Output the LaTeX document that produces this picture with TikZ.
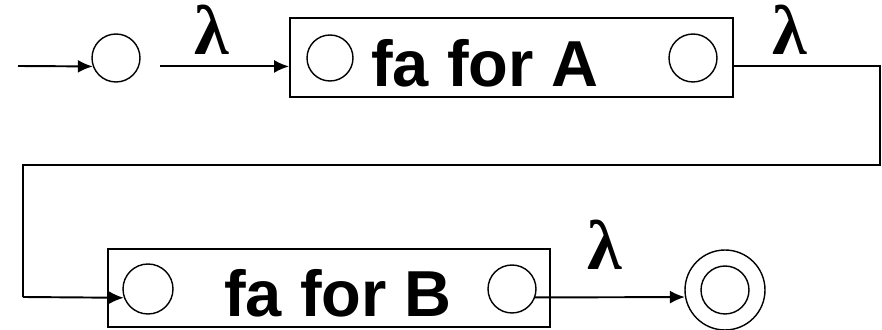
\documentclass[tikz,border=0pt]{standalone}
\usepackage{fontspec}
\setmainfont{Liberation Sans}
\newfontfamily\lamfont{Liberation Serif}
\usetikzlibrary{arrows.meta,positioning}

\begin{document}
\begin{tikzpicture}[x=0.02cm,y=-0.02cm,
  state/.style={circle,draw,line width=0.8pt,inner sep=0pt,minimum size=0.96cm},
  fabox/.style={rectangle,draw,line width=1.1pt,inner sep=0pt},
  fatext/.style={anchor=base,font=\fontsize{37}{40}\selectfont\bfseries},
  lam/.style={anchor=base,font=\lamfont\bfseries\fontsize{40}{44}\selectfont},
  trans/.style={line width=1.1pt,-{Latex[length=3mm,width=2.6mm]}},
  wire/.style={line width=1.1pt}]
\useasboundingbox (0,0) rectangle (882,330);
% boxes
\node[fabox,minimum width=8.86cm,minimum height=1.58cm] (boxA) at (511.5,57.5) {};
\node[fabox,minimum width=8.84cm,minimum height=1.56cm] (boxB) at (329,288) {};
\node[fatext] (txtA) at (485,87) {fa for A};
\node[fatext] (txtB) at (338,317) {fa for B};
% states
\node[state] (q0) at (116,58) {};
\node[state,minimum size=0.92cm] (a1) at (330,58) {};
\node[state] (a2) at (693,58) {};
\node[state,minimum size=1.0cm] (b1) at (148,289) {};
\node[state] (b2) at (512,289) {};
\node[state,minimum size=1.6cm] (fin) at (725,290) {};
\node[state] (fin2) at (725,290) {};
% route of the wire
\coordinate (start) at (18,66);
\coordinate (r1) at (880,66);
\coordinate (r2) at (880,165);
\coordinate (l1) at (23,165);
\coordinate (l2) at (23,297);
% transitions
\draw[trans] (start) -- (q0.200);
\draw[trans,shorten <=0.42cm] (q0.340) -- (q0.340 -| boxA.west);
\draw[wire] (boxA.east |- r1) -- (r1) -- (r2) -- (l1) -- (l2);
\draw[trans] (l2) -- (b1.200);
\draw[trans] (b2.340) -- (fin.190);
% labels
\node[lam] (lam1) at (212,55) {λ};
\node[lam] (lam2) at (790,55) {λ};
\node[lam] (lam3) at (605,270) {λ};
\end{tikzpicture}
\end{document}
